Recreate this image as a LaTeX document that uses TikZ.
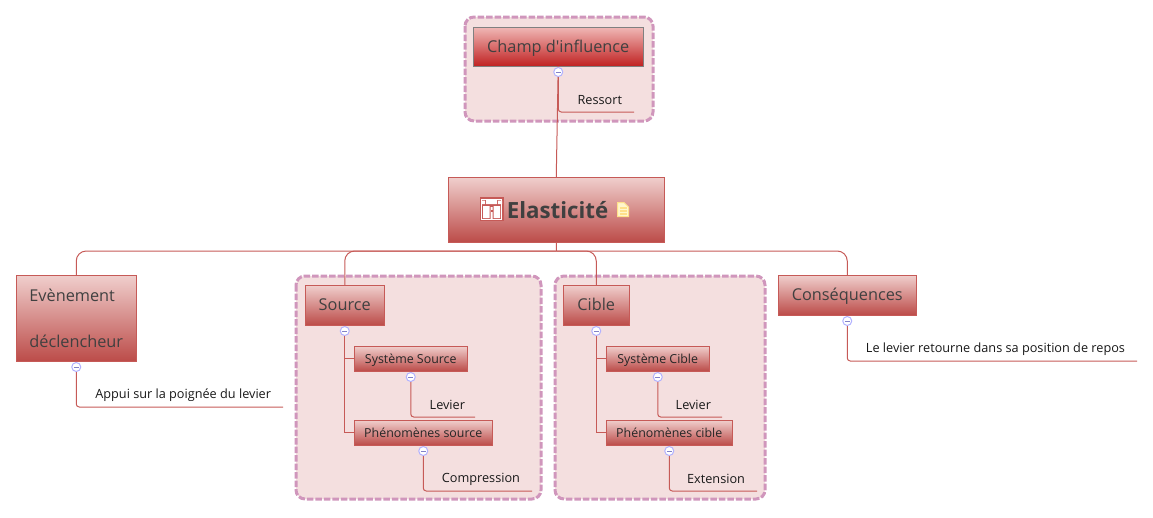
\documentclass[tikz,border=0pt]{standalone}
\usepackage{fontspec}
\setmainfont{Open Sans}
\newfontfamily\plainf{Open Sans}
\usetikzlibrary{calc}
\definecolor{linec}{HTML}{C65A57}
\definecolor{groupfill}{HTML}{F4DFDF}
\definecolor{groupline}{HTML}{D096BC}
\definecolor{boxtop}{HTML}{F0CFCD}
\definecolor{boxbot}{HTML}{BC4C49}
\definecolor{champtop}{HTML}{F0B8B6}
\definecolor{champbot}{HTML}{C02222}
\definecolor{txtdark}{HTML}{404040}
\definecolor{iconl}{HTML}{FFE08A}
\definecolor{iconf}{HTML}{FFF6CC}
\tikzset{
  x=1pt,y=-1pt,
  groupbox/.style={draw=groupline,fill=groupfill,line width=3pt,dash pattern=on 6.5pt off 2pt,rounded corners=9pt},
  box/.style={draw=linec,line width=1pt,outer sep=0pt,shading=axis,top color=boxtop,bottom color=boxbot,inner sep=0pt,text=txtdark,anchor=north west},
  bigtext/.style={box,font=\fontsize{16.3}{20}\selectfont},
  big/.style={bigtext,text height=14.5pt,text depth=3pt},
  small/.style={box,font=\fontsize{12.4}{14}\selectfont,text=black!85,text height=12pt,text depth=3pt},
  topbox/.style={big,draw=black!50,top color=champtop,bottom color=champbot},
  leaf/.style={anchor=south east,inner xsep=12pt,inner ysep=0pt,outer sep=0pt,minimum height=24pt,font=\fontsize{12.7}{14}\selectfont,text=black!90},
  conn/.style={draw=linec,line width=1pt},
  tree/.style={conn,rounded corners=10pt},
  leafline/.style={conn,rounded corners=3pt},
  collapse/.style={circle,draw=blue!30!white,fill=white,line width=1pt,minimum size=9pt,inner sep=0pt,
    path picture={\draw[gray!60!blue!70!white,line width=1pt] ([xshift=-2.5pt]path picture bounding box.center) -- ([xshift=2.5pt]path picture bounding box.center);}},
}
\begin{document}
\begin{tikzpicture}
\useasboundingbox (0,0) rectangle (1153,517);
% groups
\path[groupbox] (465,17) rectangle (653,121);
\path[groupbox] (296,276) rectangle (541,499);
\path[groupbox] (555,276) rectangle (765,499);
% boxes
\node[topbox,minimum width=170.5pt,minimum height=39pt] (champ) at (473,27) {\plainf Champ d'influence};
\node[box,minimum width=216.5pt,minimum height=65pt] (root) at (448,177) {};
\node[bigtext,minimum width=120.5pt,minimum height=86pt,align=left] (even) at (16,275) {Evènement\\[26pt]déclencheur};
\node[big,minimum width=79.5pt,minimum height=40pt] (source) at (305,285) {Source};
\node[big,minimum width=66.5pt,minimum height=40pt] (cible) at (563,285) {Cible};
\node[big,minimum width=138.5pt,minimum height=40pt] (cons) at (778,275) {Conséquences};
\node[small,minimum width=113.5pt,minimum height=25pt] (syss) at (354,346) {Système Source};
\node[small,minimum width=138.5pt,minimum height=25pt] (phes) at (354,420) {Phénomènes source};
\node[small,minimum width=103.5pt,minimum height=25pt] (sysc) at (606,346) {Système Cible};
\node[small,minimum width=126.5pt,minimum height=25pt] (phec) at (606,420) {Phénomènes cible};
% root label and icons
\node[font=\fontsize{22.3}{26}\selectfont\bfseries,text=txtdark,inner sep=0pt] (rootlabel) at (557.5,210.5) {Elasticité};
\fill[linec] (479.5,197) rectangle (503.5,221);
\fill[white] (481,198.5) rectangle (502,219.5);
\fill[linec] (482,199.5) rectangle (501,218.5);
\fill[white] (486,199.5) rectangle (497,204) (481,200.5) rectangle (485,204) (498,200.5) rectangle (502,204)
  (483,206) rectangle (489.5,218) (493.5,206) rectangle (500,218) (490.5,207) rectangle (492.5,219.5);
\fill[linec] (490.5,210) rectangle (492.5,212);
\fill[iconf,draw=iconl,line width=1pt] (617.5,202.5) -- (624,202.5) -- (628.5,207) -- (628.5,216.5) -- (617.5,216.5) -- cycle;
\draw[iconl,line width=1.5pt] (619.5,208) -- (626.5,208) (619.5,211) -- (626.5,211) (619.5,214) -- (626.5,214);
% leaves
\node[leaf] (ressort) at (634,112) {Ressort};
\node[leaf] (appui) at (283,407) {Appui sur la poignée du levier};
\node[leaf,inner xsep=10pt] (levs) at (475,417) {Levier};
\node[leaf] (comp) at (532,491) {Compression};
\node[leaf,inner xsep=11pt] (levc) at (722,417) {Levier};
\node[leaf] (ext) at (757,491) {Extension};
\node[leaf] (retour) at (1137,361) {Le levier retourne dans sa position de repos};
% connectors
\coordinate (bus) at (556.5,251);
\draw[conn] (root.north) -- (champ.south);
\draw[conn] (root.south) -- (bus);
\draw[tree] (bus) -| (even.north);
\draw[tree] (bus) -| (source.north);
\draw[tree] (bus) -| (cible.north);
\draw[tree] (bus) -| (cons.north);
\draw[conn] (source.south) |- (syss.west);
\draw[conn] (source.south) |- (phes.west);
\draw[conn] (cible.south) |- (sysc.west);
\draw[conn] (cible.south) |- (phec.west);
\draw[leafline] (champ.south) |- (ressort.south east);
\draw[leafline] (even.south) |- (appui.south east);
\draw[leafline] (syss.south) |- (levs.south east);
\draw[leafline] (phes.south) |- (comp.south east);
\draw[leafline] (sysc.south) |- (levc.south east);
\draw[leafline] (phec.south) |- (ext.south east);
\draw[leafline] (cons.south) |- (retour.south east);
% collapse buttons
\foreach \n in {champ,even,source,cible,cons,syss,phes,sysc,phec}
  \node[collapse] (c\n) at ([yshift=-6pt]\n.south) {};
\end{tikzpicture}
\end{document}
